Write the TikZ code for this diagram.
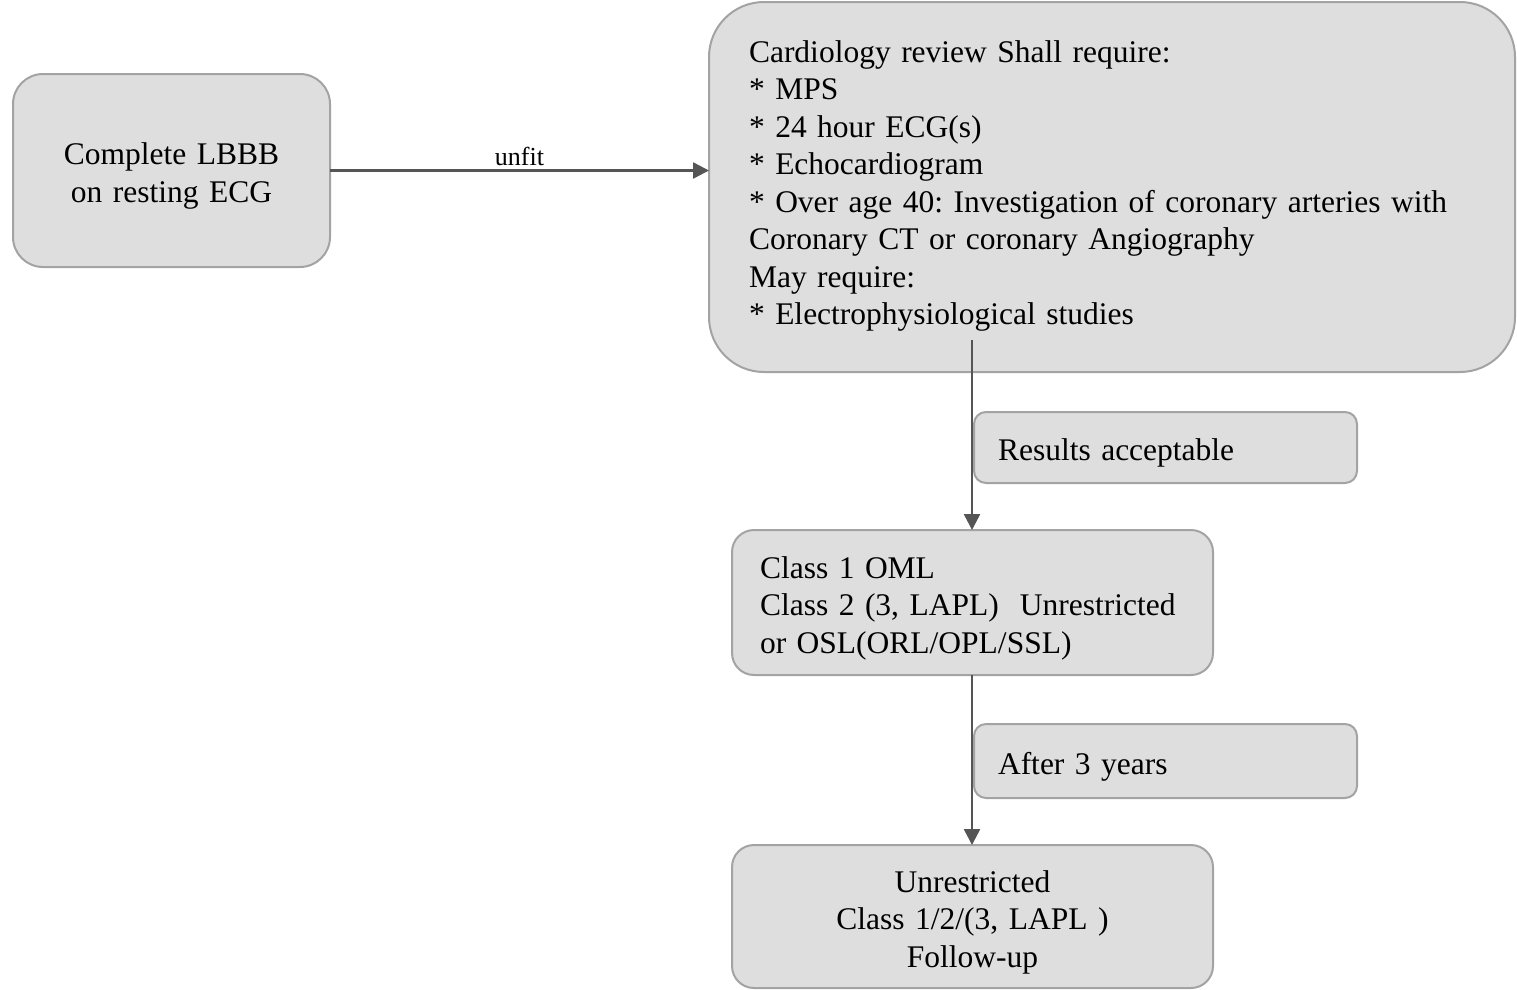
\documentclass[tikz,border=0pt]{standalone}
\usepackage{fontspec}
\setmainfont{Liberation Serif}
\usetikzlibrary{arrows.meta}
\frenchspacing
\definecolor{boxfill}{HTML}{DEDEDE}
\definecolor{boxline}{HTML}{A3A3A3}
\definecolor{arrowcol}{HTML}{555555}
\tikzset{
  box/.style={draw=boxline, fill=boxfill, line width=2pt, anchor=north west,
    font=\fontsize{31.5}{37.5}\selectfont\frenchspacing, inner ysep=0pt, outer sep=0pt,
    text height=33pt},
  flow/.style={draw=arrowcol, line width=2.5pt, -{Triangle[length=16pt,width=16pt]}},
  lbl/.style={font=\fontsize{26}{29}\selectfont, inner sep=2pt}
}
\begin{document}
\begin{tikzpicture}[x=1pt,y=-1pt]
\useasboundingbox (0,0) rectangle (1517,989);
\node[box, rounded corners=30pt, minimum width=317pt, minimum height=193pt,
  text width=297pt, inner xsep=10pt, align=center] (A) at (13,74)
  {Complete LBBB\\on resting ECG};
\node[box, rounded corners=55pt, minimum width=806pt, minimum height=370pt,
  text width=726pt, inner xsep=40pt, align=left, text height=20pt] (B) at (709,2)
  {Cardiology review Shall require:\\
   {*} MPS\\
   {*} 24 hour ECG(s)\\
   {*} Echocardiogram\\
   {*} Over age 40: Investigation of coronary arteries with\\
   Coronary CT or coronary Angiography\\
   May require:\\
   {*} Electrophysiological studies};
\node[box, rounded corners=12pt, minimum width=383pt, minimum height=71pt,
  text width=335pt, inner xsep=24pt, align=left] (R) at (974,412)
  {Results acceptable};
\node[box, rounded corners=22pt, minimum width=481pt, minimum height=145pt,
  text width=425pt, inner xsep=28pt, align=left] (C) at (732,530)
  {Class 1 OML\\
   Class 2 (3, LAPL)~ Unrestricted\\
   or OSL(ORL/OPL/SSL)};
\node[box, rounded corners=12pt, minimum width=383pt, minimum height=74pt,
  text width=335pt, inner xsep=24pt, align=left] (T) at (974,724)
  {After 3 years};
\node[box, rounded corners=22pt, minimum width=481pt, minimum height=143pt,
  text width=461pt, inner xsep=10pt, align=center] (E) at (732,845)
  {Unrestricted\\
   Class 1/2/(3, LAPL )\\
   Follow-up};
\coordinate (Bout) at (972,340);
\draw[flow] (A.east) -- (A.east -| B.west) node[lbl, midway, above=2pt] (U) {unfit};
\draw[flow] (Bout) -- (Bout |- C.north);
\draw[flow] (Bout |- C.south) -- (Bout |- E.north);
\end{tikzpicture}
\end{document}
